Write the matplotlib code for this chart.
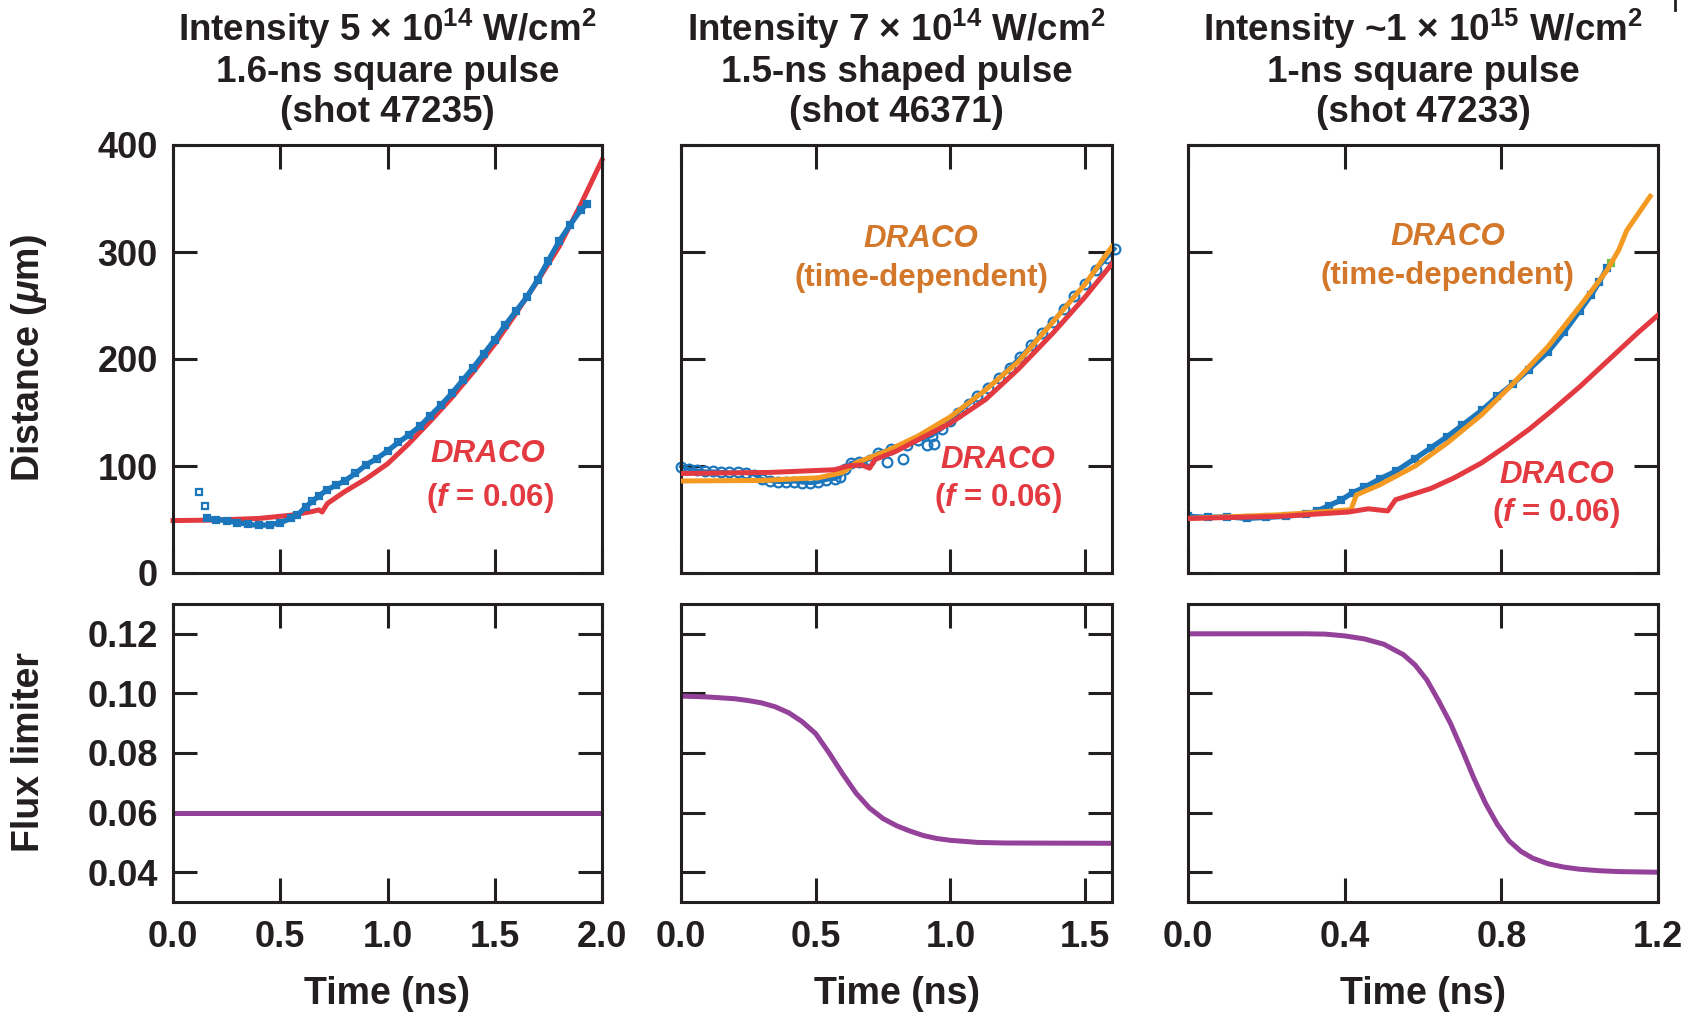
import matplotlib
matplotlib.use('Agg')
import matplotlib.pyplot as plt
from matplotlib.lines import Line2D

plt.rcParams['font.family'] = ['Liberation Sans', 'DejaVu Sans']
plt.rcParams['font.weight'] = 'bold'
plt.rcParams['mathtext.fontset'] = 'custom'
plt.rcParams['mathtext.rm'] = 'Liberation Sans:bold'
plt.rcParams['mathtext.it'] = 'Liberation Sans:italic:bold'
plt.rcParams['mathtext.bf'] = 'Liberation Sans:bold'

# ---------------- data ----------------
# Panel 1 (shot 47235)
p1_red_t = [0.0, 0.2, 0.4, 0.55, 0.65, 0.68, 0.695, 0.72, 0.8, 0.9, 1.0, 1.1, 1.2, 1.3, 1.4, 1.5, 1.6, 1.7, 1.8, 1.9, 2.0]
p1_red_y = [49, 49.5, 51, 54, 57.5, 59, 57, 65, 76, 88, 102, 121, 142, 164, 188, 214, 243, 273, 305, 344, 386]
p1_blue_t = [0.16, 0.20, 0.25, 0.30, 0.35, 0.40, 0.45, 0.50, 0.55, 0.58, 0.62, 0.65, 0.68, 0.72, 0.76, 0.80,
             0.85, 0.90, 0.95, 1.00, 1.05, 1.10, 1.15, 1.20, 1.25, 1.30, 1.35, 1.40, 1.45, 1.50, 1.55, 1.60,
             1.65, 1.70, 1.75, 1.80, 1.85, 1.90, 1.93]
p1_blue_y = [51, 50, 49, 47, 45.5, 44.5, 45, 47, 51, 54, 62, 67, 72, 78, 82, 86,
             93, 101, 107, 114, 122, 129, 137, 147, 157, 168, 180, 192, 205, 218, 232, 245,
             258, 274, 292, 310, 325, 339, 345]
p1_out_t = [0.12, 0.15]
p1_out_y = [76, 63]
p1_flux_t = [0.0, 2.0]
p1_flux_y = [0.06, 0.06]

# Panel 2 (shot 46371)
p2_red_t = [0.0, 0.33, 0.57, 0.62, 0.67, 0.70, 0.72, 0.8, 0.88, 1.0, 1.13, 1.25, 1.38, 1.50, 1.60]
p2_red_y = [93, 94, 96.5, 100, 101, 98, 106, 114, 124.5, 140, 162, 190, 224, 258, 289]
p2_orange_t = [0.0, 0.3, 0.51, 0.6, 0.65, 0.76, 0.88, 1.0, 1.13, 1.25, 1.375, 1.5, 1.6]
p2_orange_y = [86, 86.5, 89, 94, 103, 113.6, 128, 146, 171, 197, 233, 270, 305]
p2_blue_t = [0.0, 0.03, 0.06, 0.09, 0.12, 0.15, 0.18, 0.21, 0.24, 0.27, 0.30, 0.33, 0.36, 0.39, 0.42,
             0.45, 0.48, 0.51, 0.54, 0.57, 0.59, 0.61, 0.63, 0.66, 0.70, 0.73, 0.78, 0.84, 0.88, 0.93,
             0.97, 1.00, 1.03, 1.07, 1.10, 1.14, 1.18, 1.22, 1.26, 1.30, 1.34, 1.38, 1.42, 1.46, 1.50,
             1.54, 1.58, 1.61]
p2_blue_y = [99.5, 97, 96, 95, 95, 94.5, 94, 94, 93.5, 92, 88, 86, 85, 85, 85.5,
             84.5, 84, 85, 87, 88, 90, 97, 103, 104, 106, 112, 116, 120, 124, 128,
             135, 142, 150, 158, 165, 173, 182, 192, 202, 213, 224, 235, 247, 259, 270,
             283, 294, 303]
p2_out_t = [0.763, 0.825, 0.912, 0.94]
p2_out_y = [104, 107, 119.6, 121]
p2_flux_t = [0.0, 0.1, 0.2, 0.25, 0.3, 0.35, 0.4, 0.45, 0.5, 0.55, 0.6, 0.65, 0.7, 0.75, 0.8, 0.85,
             0.9, 0.95, 1.0, 1.1, 1.2, 1.6]
p2_flux_y = [0.0991, 0.0988, 0.0982, 0.0976, 0.0968, 0.0955, 0.0935, 0.0905, 0.0865, 0.0800, 0.0730,
             0.0665, 0.0615, 0.0580, 0.0556, 0.0538, 0.0523, 0.0513, 0.0507, 0.0500, 0.0498, 0.0497]

# Panel 3 (shot 47233)
p3_red_t = [0.0, 0.24, 0.41, 0.46, 0.51, 0.53, 0.56, 0.62, 0.68, 0.75, 0.81, 0.87, 0.93, 1.0, 1.05, 1.1, 1.15, 1.2]
p3_red_y = [51, 53, 57, 60, 58, 68.5, 72, 79, 89, 103, 118, 134, 152, 174, 191, 208, 225, 241]
p3_orange_t = [0.0, 0.24, 0.41, 0.415, 0.43, 0.49, 0.58, 0.66, 0.75, 0.83, 0.92, 1.0, 1.07, 1.10, 1.12, 1.18]
p3_orange_y = [51, 54.5, 59, 58, 73, 82.5, 100, 121, 148, 177, 212, 249, 283, 302, 320, 352]
p3_blue_t = [0.0, 0.05, 0.10, 0.15, 0.20, 0.25, 0.30, 0.33, 0.36, 0.39, 0.42, 0.45, 0.49, 0.53, 0.58,
             0.62, 0.66, 0.70, 0.75, 0.79, 0.83, 0.87, 0.92, 0.96, 1.00, 1.03, 1.05, 1.07]
p3_blue_y = [53, 52, 52.5, 51, 52, 53, 55, 58, 63, 68, 75, 80, 88, 95, 107,
             117, 127, 138, 152, 165, 177, 190, 207, 225, 245, 260, 272, 285]
p3_green_t = [1.08]
p3_green_y = [290]
p3_flux_t = [0.0, 0.3, 0.35, 0.4, 0.45, 0.5, 0.55, 0.58, 0.61, 0.64, 0.67, 0.70, 0.73, 0.76, 0.79, 0.82,
             0.85, 0.88, 0.92, 0.96, 1.0, 1.05, 1.1, 1.2]
p3_flux_y = [0.120, 0.1200, 0.1199, 0.1193, 0.1183, 0.1165, 0.1130, 0.1095, 0.1045, 0.0975, 0.0900, 0.0810,
             0.0715, 0.0630, 0.0560, 0.0505, 0.0470, 0.0447, 0.0428, 0.0417, 0.0410, 0.0405, 0.0402, 0.0400]

titles = [["Intensity 5 \u00d7 10$^{14}$ W/cm$^{2}$", "1.6-ns square pulse", "(shot 47235)"],
          ["Intensity 7 \u00d7 10$^{14}$ W/cm$^{2}$", "1.5-ns shaped pulse", "(shot 46371)"],
          ["Intensity ~1 \u00d7 10$^{15}$ W/cm$^{2}$", "1-ns square pulse", "(shot 47233)"]]
xlims = [2.0, 1.6, 1.2]
xticks = [[0.0, 0.5, 1.0, 1.5, 2.0], [0.0, 0.5, 1.0, 1.5], [0.0, 0.4, 0.8, 1.2]]
xticklabels = [["0.0", "0.5", "1.0", "1.5", "2.0"], ["0.0", "0.5", "1.0", "1.5"], ["0.0", "0.4", "0.8", "1.2"]]
dist_ticks = [0, 100, 200, 300, 400]
flux_ticks = [0.04, 0.06, 0.08, 0.10, 0.12]
flux_ticklabels = ["0.04", "0.06", "0.08", "0.10", "0.12"]

# ---------------- style ----------------
W, H = 1688, 1014
RED = '#e23a40'
ORANGE = '#f49a22'
ORANGE_TXT = '#d3772b'
BLUE = '#1b76bc'
PURPLE = '#94419a'
GREEN = '#6abd45'
DARK = '#231f20'
FS_TICK = 26
FS_TITLE = 26.5
FS_LAB = 27
FS_ANN = 22.5

fig = plt.figure(figsize=(W / 100, H / 100), dpi=100)

lefts = [173, 681, 1188]
rights = [602, 1112, 1658]
top_px = (145, 573)
bot_px = (604, 902)


def frac_box(l, r, t, b):
    return [l / W, 1 - b / H, (r - l) / W, (b - t) / H]


def style(ax):
    for s in ax.spines.values():
        s.set_linewidth(2.2)
        s.set_color(DARK)
    ax.tick_params(direction='in', length=17, width=2.2, color=DARK,
                   top=True, right=True, labelsize=FS_TICK, pad=11, labelcolor=DARK)


top_axes, bot_axes = [], []
for i in range(3):
    at = fig.add_axes(frac_box(lefts[i], rights[i], *top_px))
    ab = fig.add_axes(frac_box(lefts[i], rights[i], *bot_px))
    for ax in (at, ab):
        style(ax)
        ax.set_xlim(0, xlims[i])
        ax.set_xticks(xticks[i])
    at.set_ylim(0, 400)
    at.set_yticks(dist_ticks)
    at.set_xticklabels([])
    ab.set_ylim(0.03, 0.13)
    ab.set_yticks(flux_ticks)
    ab.set_xticklabels(xticklabels[i])
    ab.tick_params(axis='x', pad=13)
    if i == 0:
        at.set_yticklabels([str(v) for v in dist_ticks])
        ab.set_yticklabels(flux_ticklabels)
    else:
        at.set_yticklabels([])
        ab.set_yticklabels([])
    top_axes.append(at)
    bot_axes.append(ab)

LW = 3.6
# Panel 1
ax = top_axes[0]
ax.plot(p1_red_t, p1_red_y, color=RED, lw=LW, clip_on=False, zorder=2)
ax.plot(p1_blue_t, p1_blue_y, color=BLUE, lw=3.8, marker='s', ms=5, mfc='none', mew=1.6, zorder=3)
ax.plot(p1_out_t, p1_out_y, ls='none', color=BLUE, marker='s', ms=4.5, mfc='none', mew=1.6, zorder=3)
ax.text(1.47, 111, "DRACO", color=RED, fontsize=FS_ANN, style='italic', ha='center', va='center')
ax.text(1.48, 70, "($f$ = 0.06)", color=RED, fontsize=FS_ANN, ha='center', va='center')

# Panel 2
ax = top_axes[1]
ax.plot(p2_blue_t, p2_blue_y, color=BLUE, lw=2.8, marker='o', ms=7, mfc='none', mew=1.6, zorder=2, clip_on=False)
ax.plot(p2_out_t, p2_out_y, ls='none', color=BLUE, marker='o', ms=7, mfc='none', mew=1.6, zorder=2)
ax.plot(p2_orange_t, p2_orange_y, color=ORANGE, lw=LW, zorder=3)
ax.plot(p2_red_t, p2_red_y, color=RED, lw=LW, zorder=4)
ax.text(0.892, 312, "DRACO", color=ORANGE_TXT, fontsize=FS_ANN, style='italic', ha='center', va='center')
ax.text(0.892, 276, "(time-dependent)", color=ORANGE_TXT, fontsize=FS_ANN, ha='center', va='center')
ax.text(1.176, 106, "DRACO", color=RED, fontsize=FS_ANN, style='italic', ha='center', va='center')
ax.text(1.176, 70.5, "($f$ = 0.06)", color=RED, fontsize=FS_ANN, ha='center', va='center')

# Panel 3
ax = top_axes[2]
ax.plot(p3_blue_t, p3_blue_y, color=BLUE, lw=3.8, marker='s', ms=5, mfc='none', mew=1.6, zorder=2)
ax.plot(p3_green_t, p3_green_y, ls='none', color=GREEN, marker='s', ms=4.5, mfc='none', mew=1.6, zorder=2)
ax.plot(p3_orange_t, p3_orange_y, color=ORANGE, lw=LW, zorder=3)
ax.plot(p3_red_t, p3_red_y, color=RED, lw=LW, zorder=4)
ax.text(0.663, 314, "DRACO", color=ORANGE_TXT, fontsize=FS_ANN, style='italic', ha='center', va='center')
ax.text(0.663, 278, "(time-dependent)", color=ORANGE_TXT, fontsize=FS_ANN, ha='center', va='center')
ax.text(0.941, 92, "DRACO", color=RED, fontsize=FS_ANN, style='italic', ha='center', va='center')
ax.text(0.941, 56, "($f$ = 0.06)", color=RED, fontsize=FS_ANN, ha='center', va='center')

# Flux limiter
for ax, t, y in zip(bot_axes, [p1_flux_t, p2_flux_t, p3_flux_t], [p1_flux_y, p2_flux_y, p3_flux_y]):
    ax.plot(t, y, color=PURPLE, lw=LW)

# Titles
line_y = [29, 72, 113]
for i in range(3):
    cx = (lefts[i] + rights[i]) / 2 / W
    for j, s in enumerate(titles[i]):
        fig.text(cx, 1 - line_y[j] / H, s, ha='center', va='center', fontsize=FS_TITLE, color=DARK)
    fig.text(cx, 1 - 994 / H, "Time (ns)", ha='center', va='center', fontsize=FS_LAB, color=DARK)

fig.text(29 / W, 1 - 358 / H, "Distance ($\\mu$m)", rotation=90, ha='center', va='center', fontsize=FS_LAB, color=DARK)
fig.text(29 / W, 1 - 752 / H, "Flux limiter", rotation=90, ha='center', va='center', fontsize=FS_LAB, color=DARK)

fig.add_artist(Line2D([1675 / W, 1675 / W], [1.0, 1 - 10 / H], color=DARK, lw=2))

fig.savefig('out.png', dpi=100)
